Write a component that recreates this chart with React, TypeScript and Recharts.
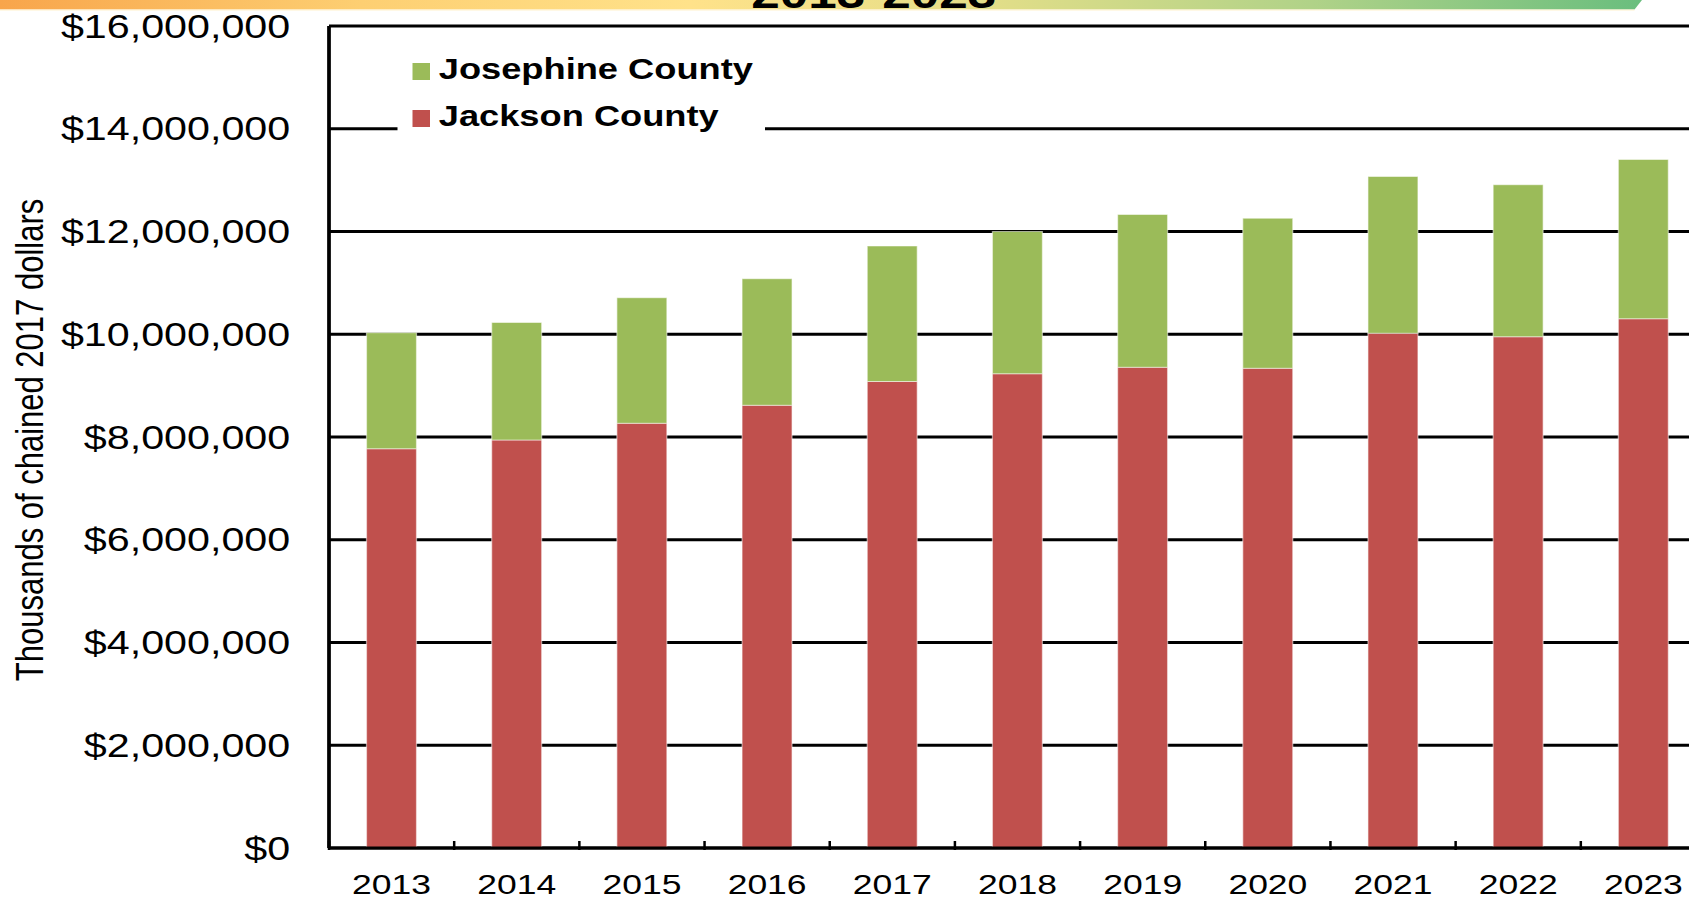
import React from "react";
import {
  Bar,
  BarChart,
  CartesianGrid,
  Label,
  Legend,
  XAxis,
  YAxis,
} from "recharts";

// values in thousands of chained 2017 dollars
const years = ["2013", "2014", "2015", "2016", "2017", "2018", "2019", "2020", "2021", "2022", "2023"];
const jackson = [7770000, 7940000, 8270000, 8620000, 9080000, 9230000, 9360000, 9340000, 10020000, 9950000, 10300000];
const josephine = [2260000, 2290000, 2440000, 2460000, 2640000, 2770000, 2970000, 2920000, 3050000, 2960000, 3100000];
const yTicks = [0, 2000000, 4000000, 6000000, 8000000, 10000000, 12000000, 14000000, 16000000];
const titleText = "2013-2023";
const yTitle = "Thousands of chained 2017 dollars";

const data = years.map((year, i) => ({
  year,
  jackson: jackson[i],
  josephine: josephine[i],
}));

// the reference image is stretched sideways, so draw narrow and scale x
const STRETCH = 1.25;
const CHART_W = 1400;
const CHART_H = 899;
const Y_AXIS_W = 263.2;
const RIGHT = 35.2;
const TOP = 26;
const X_AXIS_H = 51;
const HALF_BAND = (CHART_W - Y_AXIS_W - RIGHT) / years.length / 2;

const FONT = "'Liberation Sans', Arial, sans-serif";
const RED = "#C0504D";
const GREEN = "#9BBB59";

const fmtMoney = (v: number) => "$" + v.toLocaleString("en-US");

function YearTick(props: any) {
  const { x, y, payload } = props;
  return (
    <g>
      <line x1={x - HALF_BAND} x2={x - HALF_BAND} y1={y - 9} y2={y} stroke="#000" strokeWidth={2} />
      <text x={x} y={y + 44} textAnchor="middle" fontSize={28.4} fontFamily={FONT} fill="#000">
        {payload.value}
      </text>
    </g>
  );
}

function YTitle(props: any) {
  const vb = props.viewBox || {};
  const cx = 23.2;
  const cy = (vb.y ?? TOP) + (vb.height ?? 822) / 2 + 3;
  return (
    <text
      x={cx}
      y={cy}
      transform={`rotate(-90, ${cx}, ${cy})`}
      textAnchor="middle"
      dominantBaseline="central"
      fontSize={31}
      fontFamily={FONT}
      fill="#000"
    >
      {yTitle}
    </text>
  );
}

function LegendBox() {
  const items = [
    { label: "Josephine County", color: GREEN },
    { label: "Jackson County", color: RED },
  ];
  return (
    <div style={{ background: "#fff", width: 294, height: 96, position: "relative" }}>
      {items.map((it, i) => (
        <div
          key={it.label}
          style={{
            position: "absolute",
            left: 12.8,
            top: 17 + i * 47,
            display: "flex",
            alignItems: "flex-end",
            height: 24,
          }}
        >
          <span style={{ width: 13.6, height: 17, background: it.color, marginRight: 7, marginBottom: 4 }} />
          <span style={{ fontFamily: FONT, fontWeight: 700, fontSize: 29, color: "#000", lineHeight: "29px" }}>
            {it.label}
          </span>
        </div>
      ))}
    </div>
  );
}

function Banner() {
  const w = 1313.6;
  return (
    <svg width={CHART_W} height={40} style={{ position: "absolute", left: 0, top: 0 }}>
      <defs>
        <linearGradient id="bannerGrad" x1="0" x2="1" y1="0" y2="0">
          <stop offset="0%" stopColor="#F8A54B" />
          <stop offset="22%" stopColor="#FDCF72" />
          <stop offset="42%" stopColor="#FFE28A" />
          <stop offset="60%" stopColor="#E3DE88" />
          <stop offset="80%" stopColor="#B0D288" />
          <stop offset="100%" stopColor="#6ABE7E" />
        </linearGradient>
      </defs>
      <polygon points={`0,0 ${w},0 ${w - 6},9.5 0,9.5`} fill="url(#bannerGrad)" />
      <rect x={0} y={9.5} width={w - 6} height={1} fill="#FFF2CC" />
      <text x={699} y={8} textAnchor="middle" fontSize={41} fontWeight={700} fontFamily={FONT} fill="#000">
        {titleText}
      </text>
    </svg>
  );
}

export default function App() {
  return (
    <div
      style={{
        position: "fixed",
        left: 0,
        top: 0,
        width: 1689,
        height: 899,
        overflow: "hidden",
        background: "#fff",
      }}
    >
      <div
        style={{
          position: "relative",
          width: CHART_W,
          height: CHART_H,
          transform: `scaleX(${STRETCH})`,
          transformOrigin: "left top",
        }}
      >
        <BarChart
          width={CHART_W}
          height={CHART_H}
          data={data}
          margin={{ top: TOP, right: RIGHT, left: 0, bottom: 0 }}
          barSize={40}
        >
          <CartesianGrid horizontal vertical={false} stroke="#000" strokeWidth={3} />
          <XAxis
            dataKey="year"
            height={X_AXIS_H}
            tickLine={false}
            tickSize={0}
            axisLine={{ stroke: "#000", strokeWidth: 3 }}
            tick={<YearTick />}
            interval={0}
          />
          <YAxis
            width={Y_AXIS_W}
            domain={[0, 16000000]}
            ticks={yTicks}
            interval={0}
            tickLine={false}
            tickSize={0}
            tickMargin={31}
            axisLine={{ stroke: "#000", strokeWidth: 3 }}
            tickFormatter={fmtMoney}
            tick={{ fontSize: 33, fontFamily: FONT, fill: "#000" }}
          >
            <Label content={<YTitle />} />
          </YAxis>
          <Legend
            layout="vertical"
            align="center"
            verticalAlign="middle"
            content={() => <LegendBox />}
            wrapperStyle={{ position: "absolute", left: 317.6, top: 43, width: 294, height: 96 }}
          />
          <Bar
            dataKey="jackson"
            name="Jackson County"
            stackId="a"
            fill={RED}
            stroke="#fff"
            strokeOpacity={0.5}
            strokeWidth={1}
            isAnimationActive={false}
          />
          <Bar
            dataKey="josephine"
            name="Josephine County"
            stackId="a"
            fill={GREEN}
            stroke="#fff"
            strokeOpacity={0.5}
            strokeWidth={1}
            isAnimationActive={false}
          />
        </BarChart>
        <Banner />
      </div>
    </div>
  );
}
